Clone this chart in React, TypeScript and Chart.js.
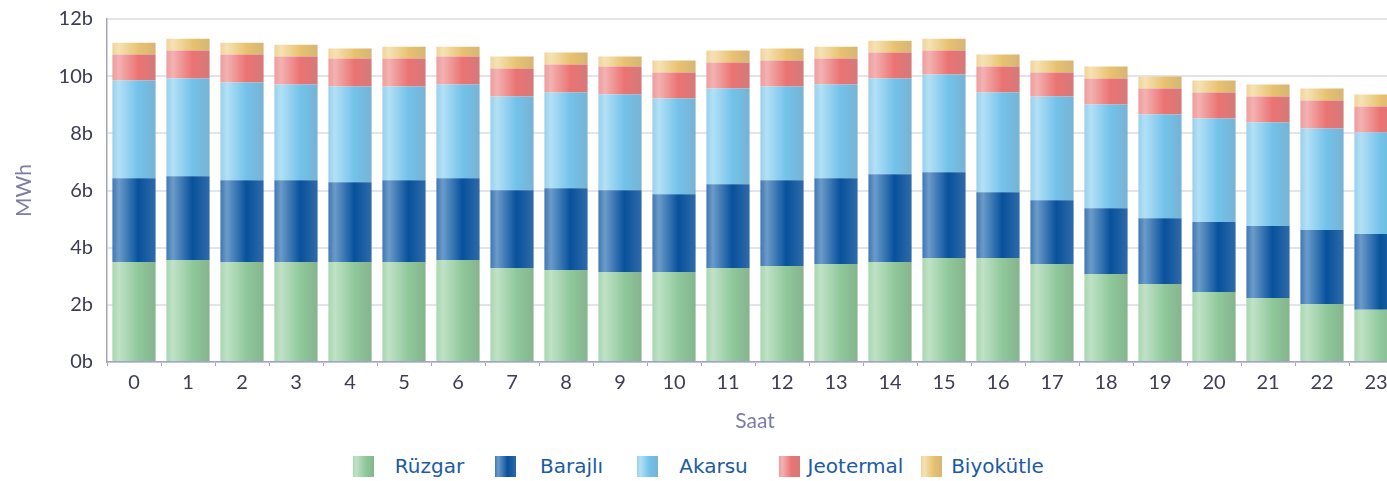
import React, { useEffect, useRef } from "react";
import { Chart, registerables } from "chart.js";

Chart.register(...registerables);

const hours: string[] = ["0","1","2","3","4","5","6","7","8","9","10","11","12","13","14","15","16","17","18","19","20","21","22","23"];

const ruzgar: number[] = [3.50,3.57,3.50,3.50,3.50,3.50,3.57,3.29,3.22,3.15,3.15,3.29,3.36,3.43,3.50,3.64,3.64,3.43,3.08,2.73,2.45,2.24,2.03,1.83];
const barajli: number[] = [2.93,2.93,2.86,2.86,2.79,2.86,2.86,2.72,2.86,2.86,2.72,2.93,3.00,3.00,3.07,3.00,2.30,2.23,2.30,2.30,2.45,2.52,2.59,2.65];
const akarsu: number[] = [3.42,3.42,3.42,3.35,3.35,3.28,3.28,3.28,3.35,3.35,3.35,3.35,3.28,3.28,3.35,3.42,3.49,3.63,3.63,3.63,3.62,3.62,3.55,3.55];
const jeotermal: number[] = [0.91,0.98,0.98,0.98,0.98,0.98,0.98,0.98,0.98,0.98,0.91,0.91,0.91,0.91,0.91,0.84,0.91,0.84,0.91,0.91,0.91,0.91,0.98,0.91];
const biyokutle: number[] = [0.41,0.41,0.41,0.41,0.35,0.41,0.34,0.42,0.42,0.35,0.42,0.42,0.42,0.41,0.41,0.41,0.42,0.42,0.42,0.42,0.42,0.42,0.42,0.42];

const yTicks: number[] = [0, 2, 4, 6, 8, 10, 12];

// gradient stops: [left edge, highlight, base, right edge]
const palettes: Record<string, string[]> = {
  "Rüzgar": ["#a9d6b1", "#bfe2c6", "#8fc89b", "#86b48d"],
  "Barajlı": ["#3f78b3", "#6b9bc9", "#08519c", "#2f6aa8"],
  "Akarsu": ["#98d0ee", "#b3e0f5", "#72c2ea", "#78b3d4"],
  "Jeotermal": ["#ee9c9c", "#f3b2b2", "#eb7373", "#d47a7a"],
  "Biyokütle": ["#f0d39a", "#f5e2b4", "#e8c270", "#d6b576"],
};

function cssGradient(p: string[]) {
  return `linear-gradient(to right, ${p[0]} 0%, ${p[1]} 15%, ${p[2]} 60%, ${p[3]} 100%)`;
}

export default function App() {
  const canvasRef = useRef<HTMLCanvasElement | null>(null);

  useEffect(() => {
    document.body.style.margin = "0";
    document.body.style.overflow = "hidden";
    const canvas = canvasRef.current;
    if (!canvas) return;

    const makeBg = (name: string) => (ctx: any) => {
      const chart = ctx.chart;
      const p = palettes[name];
      const xs = chart.scales && chart.scales.x;
      if (!chart.chartArea || !xs || ctx.dataIndex === undefined) return p[2];
      const cx = xs.getPixelForValue(ctx.dataIndex);
      const step = Math.abs(xs.getPixelForValue(1) - xs.getPixelForValue(0));
      const w = step * 0.8;
      const x0 = cx - w / 2;
      const g = chart.ctx.createLinearGradient(x0, 0, x0 + w, 0);
      g.addColorStop(0, p[0]);
      g.addColorStop(0.15, p[1]);
      g.addColorStop(0.6, p[2]);
      g.addColorStop(1, p[3]);
      return g;
    };

    const series: [string, number[]][] = [
      ["Rüzgar", ruzgar],
      ["Barajlı", barajli],
      ["Akarsu", akarsu],
      ["Jeotermal", jeotermal],
      ["Biyokütle", biyokutle],
    ];

    const chart = new Chart(canvas, {
      type: "bar",
      data: {
        labels: hours,
        datasets: series.map(([name, data]) => ({
          label: name,
          data,
          backgroundColor: makeBg(name),
          borderWidth: 0,
          categoryPercentage: 0.8,
          barPercentage: 1.0,
        })),
      },
      options: {
        animation: false,
        responsive: false,
        maintainAspectRatio: false,
        layout: { padding: { top: 11, right: 7, left: 0, bottom: 0 } },
        plugins: {
          legend: { display: false },
          tooltip: { enabled: false },
        },
        scales: {
          x: {
            stacked: true,
            offset: true,
            grid: {
              display: true,
              drawOnChartArea: false,
              drawTicks: true,
              tickLength: 4,
              color: "#a3a3c2",
            },
            border: { display: true, color: "#a3a3c2", width: 1.5 },
            ticks: {
              color: "#3c3c55",
              font: { family: "Lato, 'Open Sans', sans-serif", size: 20 },
              padding: 5,
              maxRotation: 0,
              autoSkip: false,
            },
            title: {
              display: true,
              text: "Saat",
              color: "#7c7ca6",
              font: { family: "Lato, 'Open Sans', sans-serif", size: 21 },
              padding: { top: 10, bottom: 6 },
            },
            afterFit: (s: any) => {
              s.height = 78;
            },
          },
          y: {
            stacked: true,
            min: 0,
            max: 12,
            afterBuildTicks: (s: any) => {
              s.ticks = yTicks.map((v) => ({ value: v }));
            },
            grid: {
              color: "#e3e3ec",
              lineWidth: 2,
              drawTicks: false,
            },
            border: { display: true, color: "#a3a3c2", width: 1.5 },
            ticks: {
              color: "#3c3c55",
              font: { family: "Lato, 'Open Sans', sans-serif", size: 20 },
              padding: 14,
              callback: (v: any) => `${v}b`,
            },
            title: {
              display: true,
              text: "MWh",
              color: "#7c7ca6",
              font: { family: "Lato, 'Open Sans', sans-serif", size: 21 },
              padding: { top: 12, bottom: 0 },
            },
            afterFit: (s: any) => {
              s.width = 107;
            },
          },
        },
      },
    });

    return () => {
      chart.destroy();
    };
  }, []);

  const legendItems = Object.keys(palettes);

  return (
    <div style={{ position: "relative", width: 1410, height: 481, overflow: "hidden", background: "#fff" }}>
      <canvas
        ref={canvasRef}
        width={1410}
        height={447}
        style={{ display: "block", width: 1410, height: 447, position: "absolute", left: 0, top: -7 }}
      />
      <div
        style={{
          position: "absolute",
          left: 353,
          top: 456,
          display: "flex",
          flexDirection: "row",
          alignItems: "center",
        }}
      >
        {legendItems.map((name) => (
          <div key={name} style={{ width: 142, display: "flex", alignItems: "center", height: 21 }}>
            <span
              style={{
                display: "inline-block",
                width: 21,
                height: 21,
                background: cssGradient(palettes[name]),
                flex: "0 0 auto",
              }}
            />
            <span
              style={{
                flex: "1 1 auto",
                textAlign: "center",
                paddingRight: 10,
                color: "#1b5ba3",
                fontFamily: "'DejaVu Sans', Verdana, sans-serif",
                fontSize: 20,
                lineHeight: "21px",
                whiteSpace: "nowrap",
              }}
            >
              {name}
            </span>
          </div>
        ))}
      </div>
    </div>
  );
}
